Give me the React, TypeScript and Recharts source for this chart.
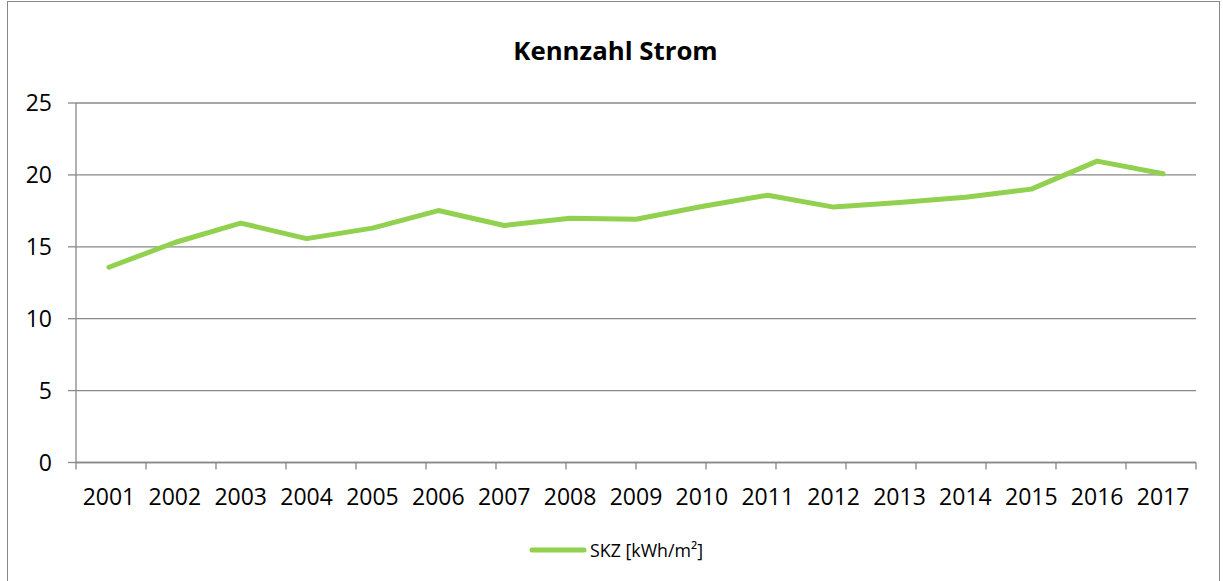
import React from "react";
import { LineChart, Line, XAxis, YAxis, CartesianGrid, Legend } from "recharts";

const years = ["2001","2002","2003","2004","2005","2006","2007","2008","2009","2010","2011","2012","2013","2014","2015","2016","2017"];
const skz = [13.58, 15.3, 16.65, 15.57, 16.3, 17.52, 16.48, 16.99, 16.92, 17.8, 18.59, 17.76, 18.08, 18.45, 19.01, 20.96, 20.08];
const yTicks = [0, 5, 10, 15, 20, 25];
const boundaryTicks = [0,1,2,3,4,5,6,7,8,9,10,11,12,13,14,15,16,17];
const seriesName = "SKZ [kWh/m²]";
const title = "Kennzahl Strom";

const data = years.map((y, i) => ({ year: y, skz: skz[i] }));

const FONT = "'Open Sans', sans-serif";
const GRAY = "#888888";
const GREEN = "#92D050";

const LegendContent = () => (
  <div style={{ display: "flex", justifyContent: "center", alignItems: "center", height: 30, fontFamily: FONT, fontSize: 17.8, color: "#000" }}>
    <svg width={58} height={10} style={{ marginRight: 3 }}>
      <line x1={3} y1={5} x2={55} y2={5} stroke={GREEN} strokeWidth={5} strokeLinecap="round" />
    </svg>
    <span>{seriesName}</span>
  </div>
);

export default function App() {
  return (
    <div style={{ position: "absolute", left: 0, top: 0, width: 1223, height: 581, overflow: "hidden", background: "#fff" }}>
      <div style={{ position: "absolute", left: 7, top: 1, width: 1213, height: 620, border: `1px solid ${GRAY}`, boxSizing: "border-box" }} />
      <div style={{ position: "absolute", left: 0, top: 32, width: 1231, textAlign: "center", fontFamily: FONT, fontWeight: 700, fontSize: 25.8, color: "#000" }}>
        {title}
      </div>
      <div style={{ position: "absolute", left: 0, top: 0 }}>
        <LineChart width={1223} height={581} data={data} margin={{ top: 103, right: 27, left: 36, bottom: 16 }}>
          <CartesianGrid vertical={false} stroke={GRAY} strokeWidth={1.3} />
          <XAxis
            xAxisId="b"
            dataKey="year"
            scale="band"
            height={64.5}
            axisLine={false}
            tickLine={false}
            tickSize={0}
            tickMargin={18}
            interval={0}
            tick={{ fill: "#000", fontFamily: FONT, fontSize: 23 }}
          />
          <XAxis
            xAxisId="a"
            type="number"
            domain={[0, 17]}
            ticks={boundaryTicks}
            allowDataOverflow
            height={8}
            tickSize={7}
            tickFormatter={() => ""}
            stroke={GRAY}
            strokeWidth={1.3}
            axisLine={{ stroke: GRAY, strokeWidth: 1.3 }}
            tickLine={{ stroke: GRAY, strokeWidth: 1.3 }}
          />
          <YAxis
            domain={[0, 25]}
            ticks={yTicks}
            width={40}
            tickSize={8}
            tickMargin={16}
            axisLine={{ stroke: GRAY, strokeWidth: 1.3 }}
            tickLine={{ stroke: GRAY, strokeWidth: 1.3 }}
            tick={{ fill: "#000", fontFamily: FONT, fontSize: 23 }}
          />
          <Legend verticalAlign="bottom" height={30} content={<LegendContent />} />
          <Line
            xAxisId="b"
            type="linear"
            dataKey="skz"
            name={seriesName}
            stroke={GREEN}
            strokeWidth={5}
            strokeLinecap="round"
            strokeLinejoin="round"
            dot={false}
            isAnimationActive={false}
          />
        </LineChart>
      </div>
    </div>
  );
}
